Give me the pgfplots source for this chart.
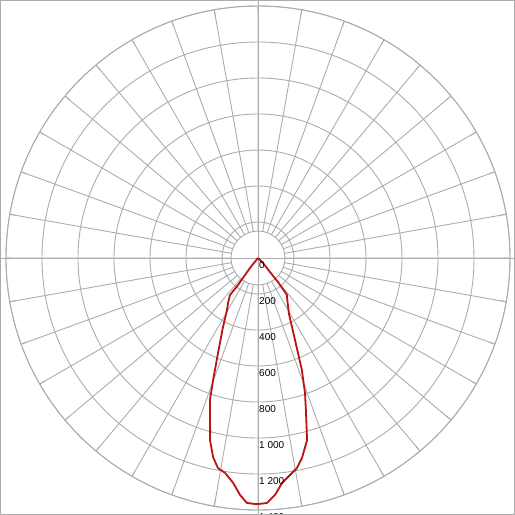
\documentclass[border=0pt]{standalone}
\usepackage{pgfplots}
\pgfplotsset{compat=1.18}
\usepackage{pgfplotstable}
\usepgfplotslibrary{polar}
\usepackage{fontspec}
\setmainfont{Liberation Sans}

\definecolor{gridgray}{RGB}{172,172,172}
\definecolor{curvered}{RGB}{185,20,20}

% gamma (deg, negative = left half), intensity (cd)
\pgfplotstableread{
gamma I
-39.0 0
-38.7 71
-37.4 119
-36.5 187
-37.1 258
-33.7 300
-30.8 336
-26.9 430
-22.8 573
-20.2 722
-18.7 833
-15.3 1008
-14.8 1045
-12.7 1134
-10.8 1188
-8.7 1208
-6.3 1257
-4.3 1321
-2.6 1362
-0.7 1367
0.0 1367
2.1 1362
4.1 1320
6.1 1257
7.5 1233
10.5 1187
12.4 1138
14.0 1082
15.1 1047
17.5 885
19.2 794
21.4 668
24.3 500
29.0 355
36.6 270
38.1 261
39.8 174
40.6 102
45.0 39
45.0 0
}\ldtdata

\begin{document}
\begin{tikzpicture}
\path[use as bounding box] (-258pt,-257pt) rectangle (257pt,258pt);
\clip (-258pt,-257pt) rectangle (257pt,258pt);
\begin{polaraxis}[
  anchor=center, at={(0pt,0pt)},
  scale only axis, width=504pt, height=504pt,
  xmin=0, xmax=360, ymin=0, ymax=1400,
  xtick={0,10,...,350}, ytick={200,400,...,1400},
  xticklabels={}, yticklabels={},
  grid=both,
  major grid style={gridgray, line width=0.9pt},
  axis line style={gridgray, line width=0.9pt},
  x tick style={gridgray, line width=0.9pt},
  y tick style={draw=none},
  major tick length=6pt, tick align=outside,
  clip=false,
]
\fill[white, draw=gridgray, line width=0.9pt] (axis cs:0,0) circle[radius=27pt];
\draw[gridgray, line width=0.9pt] (axis cs:0,1435) -- (axis cs:180,1435);
\draw[gridgray, line width=0.9pt] (axis cs:90,1435) -- (axis cs:270,1435);
\addplot[curvered, line width=1.8pt, line join=round, x filter/.expression={x-90}]
  table[x=gamma, y=I] {\ldtdata};
\end{polaraxis}
\foreach \r/\t in {0/0, 1/200, 2/400, 3/600, 4/800, 5/1 000, 6/1 200, 7/1 400}{
  \pgfmathsetmacro{\yy}{-36*\r-3.5}
  \node[anchor=north west, inner sep=0pt, font=\fontsize{10}{12}\selectfont]
    at (1pt, \yy pt) {\t};
}
\draw[gridgray, line width=1pt] (-257.5pt,-256.5pt) rectangle (256.5pt,257.5pt);
\end{tikzpicture}
\end{document}
